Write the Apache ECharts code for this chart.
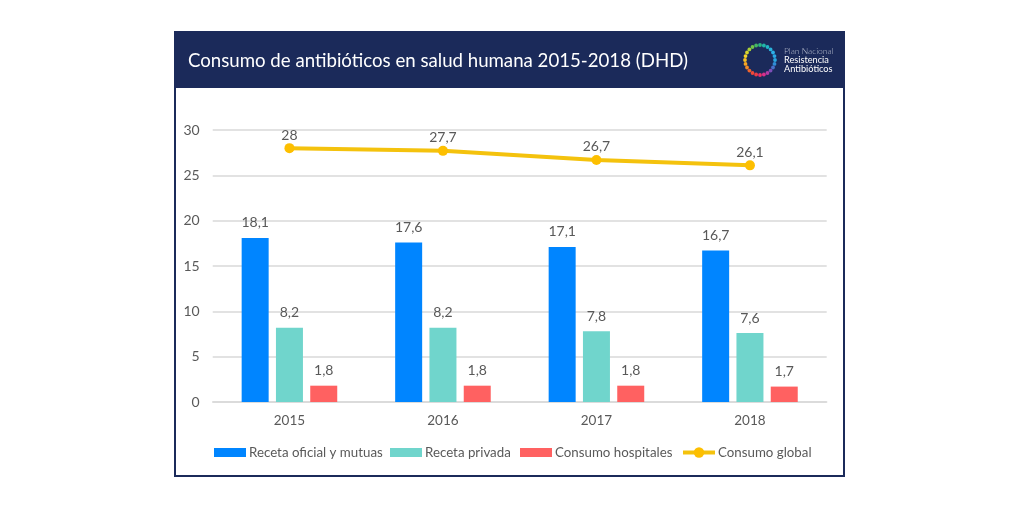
<!DOCTYPE html>
<html>
<head>
<meta charset="utf-8">
<style>
  html, body { margin: 0; padding: 0; background: #fff; }
  #chart { width: 1024px; height: 512px; }
</style>
<script src="https://cdn.jsdelivr.net/npm/echarts@6/dist/echarts.min.js"></script>
</head>
<body>
<div id="chart"></div>
<script>
var years = ['2015', '2016', '2017', '2018'];
var recetaOficial = [18.1, 17.6, 17.1, 16.7];
var recetaPrivada = [8.2, 8.2, 7.8, 7.6];
var consumoHospitales = [1.8, 1.8, 1.8, 1.7];
var consumoGlobal = [28, 27.7, 26.7, 26.1];
var seriesNames = ['Receta oficial y mutuas', 'Receta privada', 'Consumo hospitales', 'Consumo global'];
var legendLefts = [214, 390, 520, 681];
// logo ring, clockwise starting at the right
var logoColors = ['#2aa7e0', '#2f8ed6', '#4a6fc9', '#7d4fb8', '#b03ba6', '#d8308c', '#e8306a', '#ee3b45', '#ef4a38', '#f0642c', '#f58a25', '#f8a623', '#f8c024', '#f5d327', '#d8d52e', '#a8d038', '#72c44a', '#45b862', '#2cb483', '#22b5a8', '#20b6c4', '#2ab4dc', '#2db0e8', '#2aa9e4'];

var fontName = 'Lato';
var textColor = '#595959';
var navy = '#1b2a5a';

function comma(p) {
  return String(p.value).replace('.', ',');
}

function logoDots() {
  var dots = [];
  var n = logoColors.length;
  for (var i = 0; i < n; i++) {
    var a = 2 * Math.PI * i / n;
    dots.push({
      type: 'circle',
      shape: { cx: 760 + 15 * Math.cos(a), cy: 60 + 15 * Math.sin(a), r: 1.9 },
      style: { fill: logoColors[i] },
      silent: true
    });
  }
  return dots;
}

function barSeries(name, data, color) {
  return {
    name: name,
    type: 'bar',
    data: data,
    barWidth: 27,
    barGap: '27%',
    itemStyle: { color: color },
    label: {
      show: true,
      position: 'top',
      distance: 8,
      formatter: comma,
      fontFamily: fontName,
      fontSize: 14,
      color: textColor
    }
  };
}

// one legend per item, the gaps in the picture are not even
function legendFor(i) {
  var isLine = i === 3;
  var item = { name: seriesNames[i] };
  if (!isLine) {
    item.icon = 'rect';
  }
  return {
    left: legendLefts[i],
    top: 446,
    padding: 0,
    itemWidth: 32,
    itemHeight: isLine ? 13 : 9,
    lineStyle: isLine ? { width: 4 } : undefined,
    textStyle: { color: textColor, fontFamily: fontName, fontSize: 13.3, padding: [0, 0, 0, -2] },
    data: [item]
  };
}

var myChart = echarts.init(document.getElementById('chart'), null, { renderer: 'canvas' });

var option = {
  animation: false,
  backgroundColor: '#ffffff',
  textStyle: { fontFamily: fontName },
  title: {
    text: 'Consumo de antibióticos en salud humana 2015-2018 (DHD)',
    left: 188,
    top: 49,
    padding: 0,
    textStyle: { color: '#ffffff', fontFamily: fontName, fontSize: 18.65, fontWeight: 'normal', lineHeight: 24 }
  },
  grid: { left: 212.7, right: 197.3, top: 130, bottom: 110 },
  legend: [legendFor(0), legendFor(1), legendFor(2), legendFor(3)],
  xAxis: {
    type: 'category',
    data: years,
    axisTick: { show: false },
    axisLine: { lineStyle: { color: '#d9d9d9', width: 1.5 } },
    axisLabel: { color: textColor, fontFamily: fontName, fontSize: 13.5, margin: 12 }
  },
  yAxis: {
    type: 'value',
    min: 0,
    max: 30,
    interval: 5,
    axisLine: { show: false },
    axisTick: { show: false },
    splitLine: { lineStyle: { color: '#d9d9d9', width: 1.5 } },
    axisLabel: { color: textColor, fontFamily: fontName, fontSize: 14, margin: 13 }
  },
  series: [
    barSeries(seriesNames[0], recetaOficial, '#0085ff'),
    barSeries(seriesNames[1], recetaPrivada, '#70d5cc'),
    barSeries(seriesNames[2], consumoHospitales, '#ff6161'),
    {
      name: seriesNames[3],
      type: 'line',
      data: consumoGlobal,
      symbol: 'circle',
      symbolSize: 10,
      lineStyle: { color: '#f4c20d', width: 4 },
      itemStyle: { color: '#fdbf00' },
      label: {
        show: true,
        position: 'top',
        distance: 1,
        formatter: comma,
        fontFamily: fontName,
        fontSize: 14,
        color: textColor
      }
    }
  ],
  graphic: [
    {
      type: 'rect',
      z: -1,
      shape: { x: 175, y: 32, width: 669, height: 444 },
      style: { fill: '#ffffff', stroke: navy, lineWidth: 2 },
      silent: true
    },
    {
      type: 'rect',
      z: 0,
      shape: { x: 174, y: 31, width: 671, height: 57 },
      style: { fill: navy },
      silent: true
    },
    { type: 'group', z: 1, children: logoDots() },
    {
      type: 'text',
      z: 1,
      x: 784,
      y: 47,
      style: { text: 'Plan Nacional', fill: '#b9bfd0', font: '300 8.5px Lato' }
    },
    {
      type: 'text',
      z: 1,
      x: 784,
      y: 56,
      style: { text: 'Resistencia', fill: '#ffffff', font: '9.2px Lato' }
    },
    {
      type: 'text',
      z: 1,
      x: 784,
      y: 65,
      style: { text: 'Antibióticos', fill: '#ffffff', font: '9.2px Lato' }
    }
  ]
};

myChart.setOption(option);
</script>
</body>
</html>
